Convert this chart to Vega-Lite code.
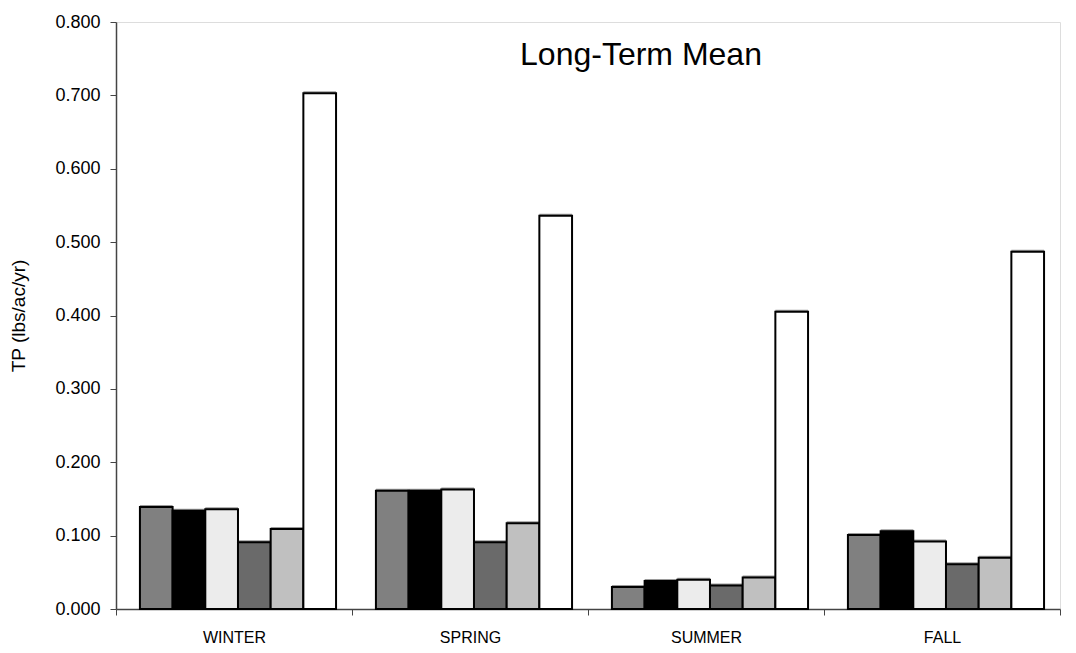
{
  "$schema": "https://vega.github.io/schema/vega-lite/v6.json",
  "width": 944,
  "height": 587,
  "autosize": {"type": "none"},
  "padding": {"left": 116, "top": 22, "right": 16, "bottom": 44},
  "background": "white",
  "title": {"text": "Long-Term Mean", "font": "Liberation Sans", "fontSize": 32, "fontWeight": "normal", "color": "black", "anchor": "middle", "dx": 53, "baseline": "alphabetic", "offset": -84, "frame": "group"},
  "data": {"values": [
    {"season": "WINTER", "series": "A", "tp": 0.139},
    {"season": "WINTER", "series": "B", "tp": 0.134},
    {"season": "WINTER", "series": "C", "tp": 0.136},
    {"season": "WINTER", "series": "D", "tp": 0.091},
    {"season": "WINTER", "series": "E", "tp": 0.109},
    {"season": "WINTER", "series": "F", "tp": 0.703},
    {"season": "SPRING", "series": "A", "tp": 0.161},
    {"season": "SPRING", "series": "B", "tp": 0.161},
    {"season": "SPRING", "series": "C", "tp": 0.163},
    {"season": "SPRING", "series": "D", "tp": 0.091},
    {"season": "SPRING", "series": "E", "tp": 0.117},
    {"season": "SPRING", "series": "F", "tp": 0.536},
    {"season": "SUMMER", "series": "A", "tp": 0.030},
    {"season": "SUMMER", "series": "B", "tp": 0.038},
    {"season": "SUMMER", "series": "C", "tp": 0.040},
    {"season": "SUMMER", "series": "D", "tp": 0.032},
    {"season": "SUMMER", "series": "E", "tp": 0.043},
    {"season": "SUMMER", "series": "F", "tp": 0.405},
    {"season": "FALL", "series": "A", "tp": 0.101},
    {"season": "FALL", "series": "B", "tp": 0.106},
    {"season": "FALL", "series": "C", "tp": 0.092},
    {"season": "FALL", "series": "D", "tp": 0.061},
    {"season": "FALL", "series": "E", "tp": 0.070},
    {"season": "FALL", "series": "F", "tp": 0.487}
  ]},
  "encoding": {
    "x": {"field": "season", "type": "nominal", "sort": ["WINTER", "SPRING", "SUMMER", "FALL"],
      "scale": {"paddingInner": 0, "paddingOuter": 0},
      "axis": {"title": null, "labelAngle": 0, "tickBand": "extent", "domainColor": "#444", "domainWidth": 1.5, "tickColor": "#444", "tickSize": 6, "labelFont": "Liberation Sans", "labelFontSize": 16, "labelColor": "black", "labelPadding": 14}},
    "xOffset": {"field": "series", "type": "nominal", "scale": {"paddingInner": 0, "paddingOuter": 0.61, "align": 0.6}},
    "y": {"field": "tp", "type": "quantitative",
      "scale": {"domain": [0, 0.8], "nice": false},
      "axis": {"title": "TP (lbs/ac/yr)", "format": ".3f", "values": [0, 0.1, 0.2, 0.3, 0.4, 0.5, 0.6, 0.7, 0.8], "grid": false, "domainColor": "#444", "domainWidth": 1.5, "tickColor": "#444", "tickSize": 6, "labelFont": "Liberation Sans", "labelFontSize": 18, "labelColor": "black", "labelPadding": 10, "titleFont": "Liberation Sans", "titleFontSize": 19, "titleFontWeight": "normal", "titleColor": "black", "titlePadding": 26}},
    "color": {"field": "series", "type": "nominal", "legend": null,
      "scale": {"domain": ["A", "B", "C", "D", "E", "F"], "range": ["#808080", "#000000", "#ececec", "#6a6a6a", "#c0c0c0", "#ffffff"]}}
  },
  "layer": [
    {"mark": {"type": "bar", "fill": "#9a9a9a", "xOffset": -2, "yOffset": -2, "stroke": null}},
    {"mark": {"type": "bar", "stroke": "black", "strokeWidth": 2, "fillOpacity": 1}}
  ]
}
